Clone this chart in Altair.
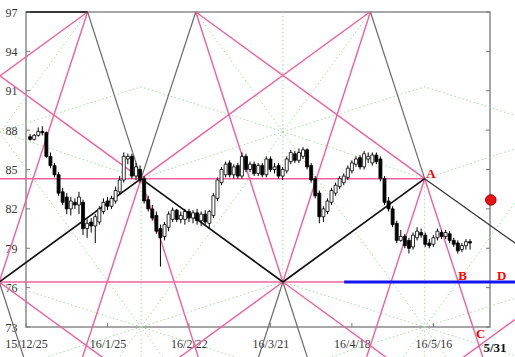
import altair as alt
import pandas as pd

# ---------------- candle data (trading-day index, AUD/JPY daily) ----------------
bar_index = list(range(1, 110))
opens = [87.5, 87.3, 87.6, 87.9, 87.8, 86.0, 85.3, 84.6, 83.3, 82.9,
         82.0, 82.5, 82.3, 82.5, 80.5, 81.0, 80.7, 81.0, 81.8, 82.6,
         82.2, 82.6, 83.3, 84.2, 85.8, 86.0, 84.5, 85.0, 84.3, 82.7,
         82.0, 81.5, 80.5, 79.9, 80.6, 81.2, 81.9, 81.2, 81.2, 81.8,
         81.3, 81.7, 81.1, 81.6, 80.9, 81.5, 82.8, 84.0, 84.6, 85.5,
         84.6, 85.3, 84.5, 86.0, 85.0, 85.4, 84.7, 85.3, 84.6, 85.8,
         85.0, 85.3, 84.5, 84.9, 85.6, 86.2, 85.7, 86.0, 86.5, 85.3,
         84.3, 83.2, 81.4, 81.8, 82.5, 83.2, 83.7, 84.0, 84.4, 84.9,
         85.4, 85.9, 85.2, 85.8, 85.5, 86.1, 85.8, 84.3, 82.6, 82.0,
         80.9, 79.6, 79.9, 79.6, 79.1, 79.8, 80.2, 80.0, 79.4, 79.3,
         79.8, 80.2, 79.9, 80.1, 79.6, 79.4, 78.9, 79.2, 79.5]
highs = [87.7, 87.7, 88.2, 88.3, 87.9, 86.3, 85.5, 84.8, 83.6, 83.2,
         82.9, 82.8, 83.3, 82.7, 81.2, 81.3, 81.6, 82.2, 82.8, 82.9,
         83.0, 83.7, 84.5, 86.3, 86.2, 86.2, 85.5, 85.3, 84.5, 83.0,
         82.3, 81.8, 80.8, 81.0, 81.8, 82.1, 82.0, 81.8, 82.0, 82.0,
         81.9, 82.0, 81.8, 81.9, 81.9, 83.2, 84.4, 85.2, 85.6, 85.7,
         85.4, 85.5, 86.3, 86.2, 85.6, 85.6, 85.5, 85.5, 86.0, 86.0,
         85.5, 85.5, 85.2, 86.0, 86.5, 86.4, 86.6, 86.7, 86.6, 85.5,
         84.5, 83.4, 82.2, 82.8, 83.6, 84.0, 84.5, 84.7, 85.3, 85.7,
         86.0, 86.1, 86.4, 86.3, 86.3, 86.3, 86.0, 84.5, 82.9, 82.2,
         81.1, 80.4, 80.1, 79.8, 80.2, 80.6, 80.5, 80.2, 79.7, 80.0,
         80.5, 80.4, 80.4, 80.3, 79.8, 79.6, 79.4, 79.7, 79.7]
lows = [87.2, 87.2, 87.5, 87.6, 85.9, 85.1, 84.4, 83.0, 82.3, 81.6,
        81.5, 82.0, 81.6, 80.0, 79.8, 80.2, 79.4, 80.8, 81.6, 81.9,
        82.0, 82.4, 83.1, 84.0, 85.4, 84.3, 84.2, 84.0, 82.4, 81.8,
        81.1, 80.1, 77.6, 79.6, 80.3, 81.0, 81.0, 80.9, 80.8, 81.0,
        80.9, 80.8, 80.7, 80.8, 80.5, 81.3, 82.6, 83.8, 84.4, 84.4,
        84.3, 84.3, 84.3, 84.8, 84.8, 84.5, 84.5, 84.4, 84.4, 84.8,
        84.7, 84.3, 84.2, 84.7, 85.4, 85.5, 85.5, 85.8, 85.0, 84.0,
        82.8, 80.9, 81.0, 81.6, 82.3, 83.0, 83.5, 83.8, 84.2, 84.7,
        85.2, 85.0, 85.0, 85.5, 85.3, 85.4, 84.1, 82.3, 81.8, 80.6,
        79.4, 79.5, 79.0, 78.6, 78.9, 79.6, 79.8, 79.1, 79.0, 79.1,
        79.6, 79.7, 79.7, 79.4, 79.1, 78.6, 78.7, 78.9, 78.9]
closes = [87.3, 87.6, 87.9, 87.8, 86.0, 85.3, 84.6, 83.2, 82.5, 82.0,
          82.6, 82.3, 82.9, 80.5, 80.9, 80.7, 81.4, 82.0, 82.5, 82.2,
          82.8, 83.4, 84.2, 86.0, 86.0, 84.5, 85.2, 84.2, 82.6, 82.0,
          81.3, 80.3, 79.8, 80.8, 81.6, 81.9, 81.2, 81.5, 81.8, 81.3,
          81.7, 81.1, 81.6, 81.0, 81.8, 83.0, 84.2, 85.0, 85.4, 84.6,
          85.2, 84.5, 86.0, 85.0, 85.4, 84.7, 85.3, 84.6, 85.8, 85.0,
          85.2, 84.5, 85.0, 85.8, 86.3, 85.7, 86.3, 86.5, 85.2, 84.2,
          83.0, 81.4, 82.0, 82.6, 83.4, 83.8, 84.3, 84.5, 85.1, 85.5,
          85.8, 85.2, 86.2, 86.0, 86.1, 85.6, 84.3, 82.5, 82.0, 80.8,
          79.6, 79.9, 79.2, 79.0, 80.0, 80.3, 80.0, 79.3, 79.2, 79.8,
          80.3, 79.9, 80.2, 79.6, 79.3, 78.8, 79.2, 79.5, 79.4]

tick_positions = [0, 20, 40, 60, 80, 100]
tick_labels = ["15/12/25", "16/1/25", "16/2/22", "16/3/21", "16/4/18", "16/5/16"]
price_ticks = [73, 76, 79, 82, 85, 88, 91, 94, 97]
x_domain = [0, 113.9]
y_domain = [73, 97]

# ---------------- drawing-tool geometry (index, price) ----------------
T0, T1, T2 = (15.12, 97.0), (41.68, 97.0), (84.55, 97.0)       # apexes on 97
X, A = (28.25, 84.3), (97.87, 84.3)                             # upper turning points
L0, L1, L2 = (-6.56, 76.43), (63.06, 76.43), (132.68, 76.43)    # lower turning points
S0, S2, S4 = (-6.56, 87.88), (63.06, 87.88), (132.68, 87.88)    # upper star centres
S1, S3 = (28.25, 73.0), (97.87, 73.0)                           # lower star centres
P, P2 = (28.25, 91.3), (97.87, 91.3)                            # roof points

black_segments = [L0 + X, X + L1, L1 + A, (0, 97.0) + T0]
dark_segments = [A + (120.35, 79.33)]
gray_segments = [T0 + X, X + T1, T2 + A,
                 L0 + (0.69, 69.5), L1 + (55.82, 69.5), L1 + (70.3, 69.5)]
pink_segments = [(-7.0, 84.3) + A, (-7.0, 76.43, 121.0, 76.43),
                 (-27.92, 97.0) + X, X + (84.41, 97.0), (41.7, 97.0) + A,
                 (-41.05, 84.3) + T0,
                 L0 + (26.26, 69.0), L1 + (30.24, 69.0), L1 + (95.88, 69.0), L2 + (99.86, 69.0),
                 T0 + L0, T1 + L1, T2 + L1,
                 X + (12.6, 69.5), X + (43.54, 69.5), A + (82.35, 69.5), A + (113.38, 69.5)]
green_segments = [X + (28.25, 69.5), (63.06, 97.0) + L1, A + (97.87, 69.5),
                  S2 + X, S2 + A, S2 + P, S2 + P2, S0 + P, S0 + X, S4 + P2, S4 + A,
                  T1 + (106.03, 69.5), T2 + (20.04, 69.5), T0 + (-9.95, 86.3),
                  (-9.95, 89.33, 36.4, 69.5), (89.71, 69.5, 120.35, 82.6),
                  S1 + L0, S1 + L1, S1 + (-6.56, 69.57), S1 + (63.06, 69.57),
                  S3 + L1, S3 + L2, S3 + (63.06, 69.57), S3 + (132.68, 69.57)]
blue_segments = [(78.1, 76.43, 121.0, 76.43)]
B_point = (106.1, 76.43)
C_point = (109.7, 73.0)

marker_index, marker_price = 114.1, 82.68

# ---------------- chart ----------------
xscale = alt.Scale(domain=x_domain, nice=False, zero=False, padding=0)
yscale = alt.Scale(domain=y_domain, nice=False, zero=False, padding=0)
label_array = "[" + ",".join("'%s'" % s for s in tick_labels) + "]"
xaxis = alt.Axis(values=tick_positions, labelExpr=label_array + "[round(datum.value / 20)]",
                 tickSize=0, domain=False, grid=False, title=None, labelFlush=False,
                 labelOverlap=False, labelFont="Liberation Serif", labelFontSize=12,
                 labelColor="#333333", labelPadding=11)
yaxis = alt.Axis(values=price_ticks, format="d", tickSize=0, domain=False, grid=False,
                 title=None, labelFlush=False, labelOverlap=False,
                 labelFont="Liberation Serif", labelFontSize=12,
                 labelColor="#333333", labelPadding=9)


def XE(f):
    return alt.X(f, type="quantitative", scale=xscale, axis=xaxis)


def YE(f):
    return alt.Y(f, type="quantitative", scale=yscale, axis=yaxis)


def seg_layer(segs, color, width, dash=None):
    df = pd.DataFrame(segs, columns=["x1", "y1", "x2", "y2"])
    kw = dict(color=color, strokeWidth=width, clip=False)
    if dash:
        kw["strokeDash"] = dash
    return alt.Chart(df).mark_rule(**kw).encode(
        x=XE("x1"), y=YE("y1"), x2="x2:Q", y2="y2:Q")


candles = pd.DataFrame({"i": bar_index, "open": opens, "high": highs,
                        "low": lows, "close": closes})

wicks = alt.Chart(candles).mark_rule(color="black", strokeWidth=1).encode(
    x=XE("i"), y=YE("low"), y2="high:Q")
bodies = alt.Chart(candles).mark_bar(size=3, stroke="black", strokeWidth=0.8).encode(
    x=XE("i"), y=YE("open"), y2="close:Q",
    fill=alt.condition("datum.close >= datum.open", alt.value("white"), alt.value("black")))

# inward axis ticks
n = len(price_ticks)
lt = pd.DataFrame({"p": price_ticks, "a": [x_domain[0]] * n, "b": [x_domain[0] + 1.0] * n,
                   "c": [x_domain[1] - 1.0] * n, "d": [x_domain[1]] * n})
left_ticks = alt.Chart(lt).mark_rule(color="#777777").encode(x=XE("a"), x2="b:Q", y=YE("p"))
right_ticks = alt.Chart(lt).mark_rule(color="#777777").encode(x=XE("c"), x2="d:Q", y=YE("p"))
m = len(tick_positions)
bt = pd.DataFrame({"t": tick_positions, "lo": [y_domain[0]] * m, "hi": [y_domain[0] + 0.3] * m})
bottom_ticks = alt.Chart(bt).mark_rule(color="#777777").encode(x=XE("t"), y=YE("lo"), y2="hi:Q")

pink = "#f0609e"
layers = [
    seg_layer(green_segments, "#a4dca4", 1, [1.5, 2.5]),
    seg_layer(pink_segments, pink, 1.4),
    seg_layer(gray_segments, "#6a6a6a", 1.2),
    seg_layer(dark_segments, "#333333", 1.2),
    seg_layer(black_segments, "#111111", 1.7),
    seg_layer(blue_segments, "#1414f0", 3),
    left_ticks, right_ticks, bottom_ticks,
    wicks, bodies,
]


def label(text, pt, dx, dy, color="#ff0000", size=13, align="left"):
    df = pd.DataFrame({"x": [pt[0]], "y": [pt[1]], "t": [text]})
    return alt.Chart(df).mark_text(align=align, baseline="alphabetic", dx=dx, dy=dy,
                                   font="Liberation Serif", fontWeight="bold",
                                   fontSize=size, color=color, clip=False).encode(
        x=XE("x"), y=YE("y"), text="t:N")


layers += [
    label("A", A, 1.5, -1),
    label("B", B_point, 0, -2),
    label("C", C_point, 3, 11),
    label("D", (x_domain[1], 76.43), 7, -2),
    label("5/31", (x_domain[1], y_domain[0]), 5, 25, color="#111111", size=13, align="center"),
]

dot = alt.Chart(pd.DataFrame({"x": [marker_index], "y": [marker_price]})).mark_point(
    filled=True, size=110, color="#ee1111", stroke="#990000", strokeWidth=1,
    opacity=1, clip=False).encode(x=XE("x"), y=YE("y"))
layers.append(dot)

chart = alt.layer(*layers).properties(
    width=464, height=315,
    padding={"left": 26, "top": 12, "right": 25, "bottom": 30},
    autosize=alt.AutoSizeParams(type="none"),
    background="white",
).configure_view(stroke="#8a8a8a", strokeWidth=1.5)

chart.save("out.html", embed_options={"renderer": "svg", "actions": False})
